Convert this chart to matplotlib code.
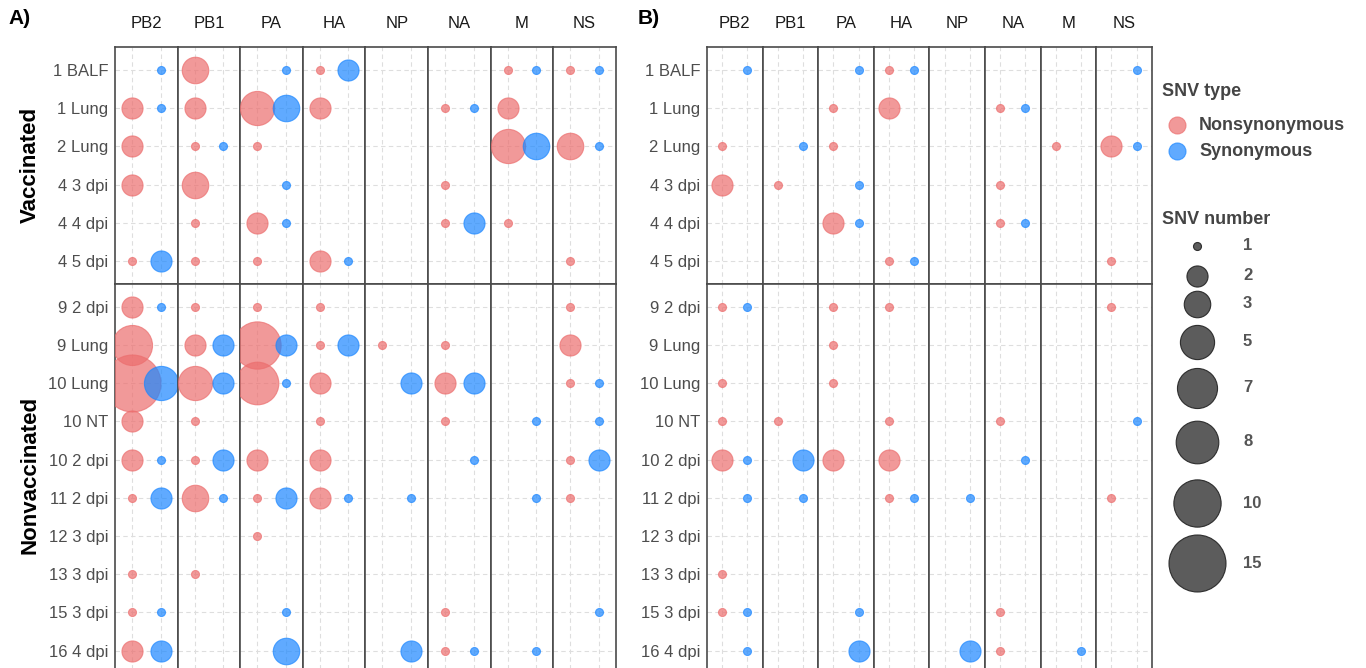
import numpy as np
import matplotlib
matplotlib.use('Agg')
import matplotlib.pyplot as plt

plt.rcParams['font.family'] = ['Liberation Sans', 'DejaVu Sans']

genes = ['PB2', 'PB1', 'PA', 'HA', 'NP', 'NA', 'M', 'NS']
vacc_rows = ['1 BALF', '1 Lung', '2 Lung', '4 3 dpi', '4 4 dpi', '4 5 dpi']
nonvacc_rows = ['9 2 dpi', '9 Lung', '10 Lung', '10 NT', '10 2 dpi', '11 2 dpi',
                '12 3 dpi', '13 3 dpi', '15 3 dpi', '16 4 dpi']

# SNV counts, one row per sample, columns follow genes
a_nonsyn = [
    [0, 3, 0, 1, 0, 0, 1, 1],
    [2, 2, 5, 2, 0, 1, 2, 0],
    [2, 1, 1, 0, 0, 0, 5, 3],
    [2, 3, 0, 0, 0, 1, 0, 0],
    [0, 1, 2, 0, 0, 1, 1, 0],
    [1, 1, 1, 2, 0, 0, 0, 1],
    [2, 1, 1, 1, 0, 0, 0, 1],
    [7, 2, 10, 1, 1, 1, 0, 2],
    [15, 5, 8, 2, 0, 2, 0, 1],
    [2, 1, 0, 1, 0, 1, 0, 0],
    [2, 1, 2, 2, 0, 0, 0, 1],
    [1, 3, 1, 2, 0, 0, 0, 1],
    [0, 0, 1, 0, 0, 0, 0, 0],
    [1, 1, 0, 0, 0, 0, 0, 0],
    [1, 0, 0, 0, 0, 1, 0, 0],
    [2, 0, 0, 0, 0, 1, 0, 0],
]
a_syn = [
    [1, 0, 1, 2, 0, 0, 1, 1],
    [1, 0, 3, 0, 0, 1, 0, 0],
    [0, 1, 0, 0, 0, 0, 3, 1],
    [0, 0, 1, 0, 0, 0, 0, 0],
    [0, 0, 1, 0, 0, 2, 0, 0],
    [2, 0, 0, 1, 0, 0, 0, 0],
    [1, 0, 0, 0, 0, 0, 0, 0],
    [0, 2, 2, 2, 0, 0, 0, 0],
    [5, 2, 1, 0, 2, 2, 0, 1],
    [0, 0, 0, 0, 0, 0, 1, 1],
    [1, 2, 0, 0, 0, 1, 0, 2],
    [2, 1, 2, 1, 1, 0, 1, 0],
    [0, 0, 0, 0, 0, 0, 0, 0],
    [0, 0, 0, 0, 0, 0, 0, 0],
    [1, 0, 1, 0, 0, 0, 0, 1],
    [2, 0, 3, 0, 2, 1, 1, 0],
]
b_nonsyn = [
    [0, 0, 0, 1, 0, 0, 0, 0],
    [0, 0, 1, 2, 0, 1, 0, 0],
    [1, 0, 1, 0, 0, 0, 1, 2],
    [2, 1, 0, 0, 0, 1, 0, 0],
    [0, 0, 2, 0, 0, 1, 0, 0],
    [0, 0, 0, 1, 0, 0, 0, 1],
    [1, 0, 1, 1, 0, 0, 0, 1],
    [0, 0, 1, 0, 0, 0, 0, 0],
    [1, 0, 1, 0, 0, 0, 0, 0],
    [1, 1, 0, 1, 0, 1, 0, 0],
    [2, 0, 2, 2, 0, 0, 0, 0],
    [0, 0, 0, 1, 0, 0, 0, 1],
    [0, 0, 0, 0, 0, 0, 0, 0],
    [1, 0, 0, 0, 0, 0, 0, 0],
    [1, 0, 0, 0, 0, 1, 0, 0],
    [0, 0, 0, 0, 0, 1, 0, 0],
]
b_syn = [
    [1, 0, 1, 1, 0, 0, 0, 1],
    [0, 0, 0, 0, 0, 1, 0, 0],
    [0, 1, 0, 0, 0, 0, 0, 1],
    [0, 0, 1, 0, 0, 0, 0, 0],
    [0, 0, 1, 0, 0, 1, 0, 0],
    [0, 0, 0, 1, 0, 0, 0, 0],
    [1, 0, 0, 0, 0, 0, 0, 0],
    [0, 0, 0, 0, 0, 0, 0, 0],
    [0, 0, 0, 0, 0, 0, 0, 0],
    [0, 0, 0, 0, 0, 0, 0, 1],
    [1, 2, 0, 0, 0, 1, 0, 0],
    [1, 1, 0, 1, 1, 0, 0, 0],
    [0, 0, 0, 0, 0, 0, 0, 0],
    [0, 0, 0, 0, 0, 0, 0, 0],
    [1, 0, 1, 0, 0, 0, 0, 0],
    [1, 0, 2, 0, 2, 0, 1, 0],
]
size_breaks = [1, 2, 3, 5, 7, 8, 10, 15]

PINK = '#EC6E6E'
BLUE = '#1C87FF'
W, H = 1366, 668


def marker_area(n):
    # area scale like ggplot scale_size: diameter ~ sqrt of rescaled value
    d = 8 + 49 * np.sqrt((np.asarray(n, float) - 1) / 14.0)
    return (d * 0.72) ** 2


def px_axes(left, top, width, height):
    return fig.add_axes([left / W, 1 - (top + height) / H, width / W, height / H])


fig = plt.figure(figsize=(W / 100, H / 100), dpi=100)

row_h = 38.2
panels = [
    ('A)', a_nonsyn, a_syn, 115, 62.6, 8),
    ('B)', b_nonsyn, b_syn, 707, 55.6, 638),
]
groups = [(vacc_rows, 0, 47), (nonvacc_rows, 6, 47 + 6.2 * row_h)]

for tag, nonsyn, syn, x0, fw, tag_x in panels:
    fig.text(tag_x / W, 1 - 18 / H, tag, fontsize=15, fontweight='bold',
             ha='left', va='center')
    for gi, gene in enumerate(genes):
        fig.text((x0 + fw * (gi + 0.5)) / W, 1 - 24 / H, gene, fontsize=12,
                 color='#1a1a1a', ha='center', va='center')
    for rows, offset, top in groups:
        n = len(rows)
        for gi, gene in enumerate(genes):
            ax = px_axes(x0 + gi * fw, top, fw, (n + 0.2) * row_h)
            ax.set_xlim(-0.6, 1.6)
            ax.set_ylim(n - 0.4, -0.6)
            ax.set_xticks([0, 1])
            ax.set_yticks(range(n))
            ax.set_axisbelow(True)
            ax.grid(True, color='#dedede', linestyle=(0, (4, 3)), linewidth=0.8)
            ax.tick_params(length=0, labelbottom=False)
            if gi == 0:
                ax.set_yticklabels(rows, fontsize=12, color='#4d4d4d')
                ax.tick_params(axis='y', pad=5)
            else:
                ax.tick_params(labelleft=False)
            for sp in ax.spines.values():
                sp.set_color('#4a4a4a')
                sp.set_linewidth(1.2)
            for ri in range(n):
                vn = nonsyn[offset + ri][gi]
                vs = syn[offset + ri][gi]
                if vn > 0:
                    ax.scatter(0, ri, s=marker_area(vn), color=PINK, alpha=0.7,
                               edgecolors=PINK, linewidths=0.8, zorder=3)
                if vs > 0:
                    ax.scatter(1, ri, s=marker_area(vs), color=BLUE, alpha=0.7,
                               edgecolors=BLUE, linewidths=0.8, zorder=3)

# group labels on the left of panel A
fig.text(30 / W, 1 - 165 / H, 'Vaccinated', rotation=90, fontsize=16,
         fontweight='bold', ha='center', va='center')
fig.text(30 / W, 1 - 475 / H, 'Nonvaccinated', rotation=90, fontsize=16,
         fontweight='bold', ha='center', va='center')

# legends
lg = px_axes(1155, 0, 211, H)
lg.set_xlim(1155, 1366)
lg.set_ylim(H, 0)
lg.axis('off')
lg.text(1162, 92, 'SNV type', fontsize=13, fontweight='bold', color='#444444',
        va='center')
lg.scatter([1177], [125], s=marker_area(2) * 0.65, color=PINK, alpha=0.7,
           edgecolors=PINK, linewidths=0.8)
lg.scatter([1177], [151], s=marker_area(2) * 0.65, color=BLUE, alpha=0.7,
           edgecolors=BLUE, linewidths=0.8)
lg.text(1199, 125, 'Nonsynonymous', fontsize=13, fontweight='bold',
        color='#444444', va='center')
lg.text(1199, 151, 'Synonymous', fontsize=13, fontweight='bold',
        color='#444444', va='center')
lg.text(1162, 219, 'SNV number', fontsize=13, fontweight='bold', color='#444444',
        va='center')
key_y = [246, 276, 304, 342, 388, 442, 503, 563]
for v, yy in zip(size_breaks, key_y):
    lg.scatter([1197], [yy], s=marker_area(v), color='#4a4a4a', alpha=0.9,
               edgecolors='#222222', linewidths=0.8)
    lg.text(1243, yy, str(v), fontsize=12, fontweight='bold', color='#555555',
            va='center')

fig.savefig('out.png', dpi=100)
